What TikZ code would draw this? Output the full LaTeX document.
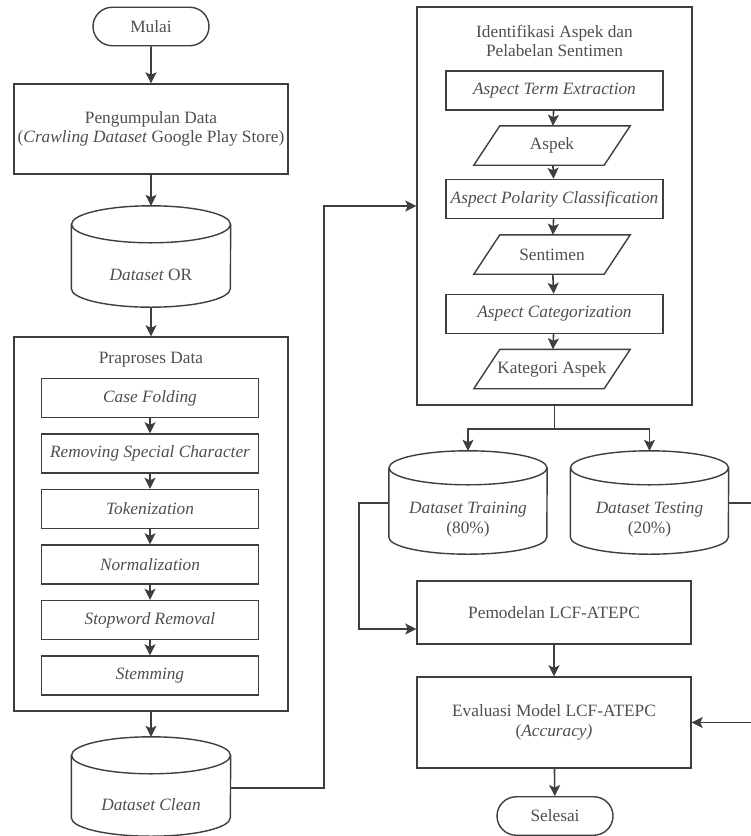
\documentclass[tikz,border=0pt]{standalone}
\usepackage{fontspec}
\setmainfont{Liberation Serif}
\usetikzlibrary{arrows.meta,shapes.misc}
\definecolor{lc}{RGB}{62,62,62}
\definecolor{tc}{RGB}{78,78,78}

% cylinder outline around a node: name, x radius, y radius
\newcommand\dbshape[3]{%
  \draw[outline] ([yshift=#3]#1.north) ellipse [x radius=#2, y radius=#3];
  \draw[outline] ([yshift=#3]#1.north west) -- ([yshift=#3]#1.south west)
    arc [start angle=180, end angle=360, x radius=#2, y radius=#3]
    -- ([yshift=#3]#1.north east);}
% slanted data box around a node
\newcommand\parashape[1]{%
  \draw[outline] ([xshift=-13pt]#1.south west) -- ([xshift=13pt]#1.north west)
    -- ([xshift=13pt]#1.north east) -- ([xshift=-13pt]#1.south east) -- cycle;}

\begin{document}
\begin{tikzpicture}[x=1pt,y=-1pt,
  every node/.style={font=\fontsize{17.3}{19.5}\selectfont, text=tc, align=center, inner sep=0pt},
  outline/.style={draw=lc, line width=1.4pt},
  box/.style={outline, minimum width=217pt, minimum height=39pt},
  term/.style={outline, rounded rectangle, minimum width=116pt, minimum height=38.5pt},
  dbnode/.style={minimum width=159pt},
  paranode/.style={minimum width=130pt, minimum height=39pt},
  arr/.style={draw=lc, line width=1.6pt, -{Stealth[length=11pt,width=11pt,inset=2.5pt]}},
  link/.style={draw=lc, line width=1.6pt}]

\useasboundingbox (0,0) rectangle (751,836);
\clip (0,0) rectangle (751,836);

% ---------- left column ----------
\node[term] (start) at (151,26.5) {Mulai};
\node[box, minimum width=274pt, minimum height=90pt] (collect) at (151,129)
  {Pengumpulan Data\\(\textit{Crawling Dataset} Google Play Store)};
\node[dbnode, minimum height=64pt] (dor) at (151,275) {\textit{Dataset} OR};
\dbshape{dor}{79.5pt}{18.5pt}

\node[box, minimum width=274pt, minimum height=374pt] (prep) at (151,524) {};
\node (preptitle) at (151,360) {Praproses Data};
\node[box] (cf)   at (150,398)   {\textit{Case Folding}};
\node[box] (rsc)  at (150,453.5) {\textit{Removing Special Character}};
\node[box] (tok)  at (150,509)   {\textit{Tokenization}};
\node[box] (norm) at (150,564.5) {\textit{Normalization}};
\node[box] (stop) at (150,620)   {\textit{Stopword Removal}};
\node[box] (stem) at (150,675.5) {\textit{Stemming}};

\node[dbnode, minimum height=62pt] (dclean) at (151,805) {\textit{Dataset Clean}};
\dbshape{dclean}{79.5pt}{18.5pt}

% ---------- right column ----------
\node[box, minimum width=275pt, minimum height=398pt] (ident) at (554.5,206) {};
\node (identtitle) at (554.5,41) {Identifikasi Aspek dan\\Pelabelan Sentimen};
\node[box] (ate) at (554.5,90.5) {\textit{Aspect Term Extraction}};
\node[paranode] (aspek) at (552,145.5) {Aspek};
\parashape{aspek}
\node[box] (apc) at (554.5,199) {\textit{Aspect Polarity Classification}};
\node[paranode] (senti) at (552,254.5) {Sentimen};
\parashape{senti}
\node[box] (acat) at (554.5,314) {\textit{Aspect Categorization}};
\node[paranode] (kat) at (552,369) {Kategori Aspek};
\parashape{kat}

\node[dbnode, minimum width=158pt, minimum height=69pt] (train) at (468,519.5)
  {\textit{Dataset Training}\\(80\%)};
\dbshape{train}{79pt}{17pt}
\node[dbnode, minimum width=158pt, minimum height=69pt] (test) at (649.5,519.5)
  {\textit{Dataset Testing}\\(20\%)};
\dbshape{test}{79pt}{17pt}

\node[box, minimum width=274pt, minimum height=63pt] (model) at (554,612.5) {Pemodelan LCF-ATEPC};
\node[box, minimum width=274pt, minimum height=91pt] (eval) at (554,722.5)
  {Evaluasi Model LCF-ATEPC\\(\textit{Accuracy)}};
\node[term] (finish) at (555,816) {Selesai};

% ---------- connectors ----------
\draw[arr] (start) -- (collect);
\draw[arr] (collect) -- ([yshift=37pt]dor.north);
\draw[arr] (dor) -- (prep);
\draw[arr] (cf) -- (rsc);
\draw[arr] (rsc) -- (tok);
\draw[arr] (tok) -- (norm);
\draw[arr] (norm) -- (stop);
\draw[arr] (stop) -- (stem);
\draw[arr] (prep) -- ([yshift=37pt]dclean.north);
\draw[arr] ([yshift=17pt]dclean.east) -- ++(93pt,0) |- (ident.west);

\draw[arr] (ate) -- (aspek);
\draw[arr] (aspek) -- (apc);
\draw[arr] (apc) -- (senti);
\draw[arr] (senti) -- (acat);
\draw[arr] (acat) -- (kat);

\coordinate (split) at (554.5,429);
\draw[link] (ident.south) -- (split);
\draw[arr] (split) -| ([yshift=34pt]train.north);
\draw[arr] (split) -| ([yshift=34pt]test.north);
\draw[arr] ([yshift=16.5pt]train.west) -- ++(-30pt,0) |- ([yshift=-16.5pt]model.west);
\draw[arr] ([yshift=16.5pt]test.east) -- ++(42pt,0) |- (eval.east);
\draw[arr] (model) -- (eval);
\draw[arr] (eval) -- (finish);
\end{tikzpicture}
\end{document}
